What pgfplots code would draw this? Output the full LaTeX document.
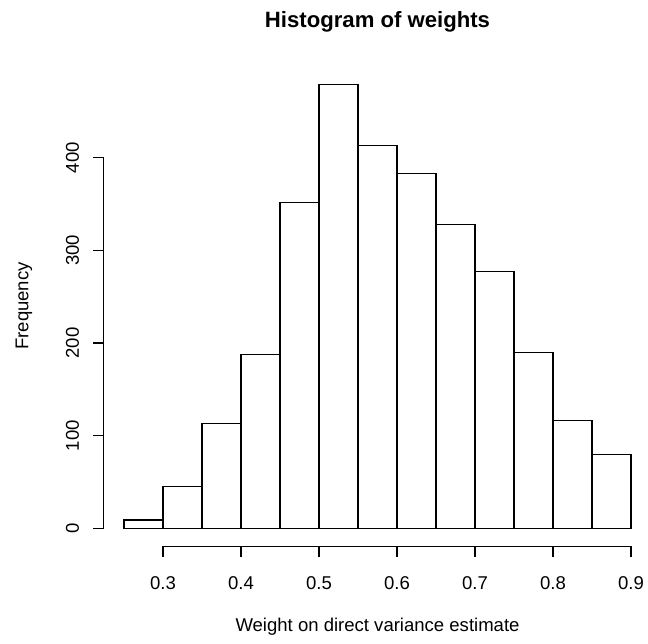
\documentclass[border=0pt]{standalone}
\usepackage{fontspec}
\setmainfont{Liberation Sans}
\usepackage{pgfplots}
\pgfplotsset{compat=1.18}

% bin counts, bins of width 0.05
\pgfplotstableread{
left count
0.25 9
0.30 45
0.35 113
0.40 188
0.45 352
0.50 479
0.55 413
0.60 383
0.65 328
0.70 277
0.75 190
0.80 116
0.85 80
0.90 80
}\weights

\newcommand{\lab}{\fontsize{13.9}{16}\selectfont}

\begin{document}
\begin{tikzpicture}
\useasboundingbox (-77.78pt,-72.68pt) rectangle (408.2pt,409.6pt);
\begin{axis}[
    scale only axis,
    width=410.7pt, height=360.2pt,
    xmin=0.224, xmax=0.926,
    ymin=-19.2, ymax=499.2,
    axis x line*=bottom, axis y line*=left,
    axis line style={draw=none},
    tick align=outside,
    major tick length=8pt,
    tick style={black, line width=0.9pt},
    xtick={0.3,0.4,...,0.9},
    ytick={0,100,200,300,400},
    xticklabels={0.3,0.4,0.5,0.6,0.7,0.8,0.9},
    yticklabels={0,100,200,300,400},
    xticklabel style={font=\lab, anchor=center, yshift=-19.8pt},
    yticklabel style={font=\lab, anchor=center, xshift=-15.4pt, rotate=90},
    /pgf/number format/assume math mode=true,
    clip=false,
]
\addplot[ybar interval, fill=white, draw=black, line width=0.9pt] table[x=left, y=count] {\weights};

\draw[line width=0.9pt] (axis cs:0.3,-19.2) -- (axis cs:0.9,-19.2);
\draw[line width=0.9pt] (axis cs:0.224,0) -- (axis cs:0.224,400);

\node[font=\fontsize{16.6}{19}\selectfont\bfseries] at (axis description cs:0.5,1.0925) {Histogram of weights};
\node[font=\lab] at (axis description cs:0.5,-0.1685) {Weight on direct variance estimate};
\node[font=\lab, rotate=90] at (axis description cs:-0.1455,0.5) {Frequency};
\end{axis}
\end{tikzpicture}
\end{document}
